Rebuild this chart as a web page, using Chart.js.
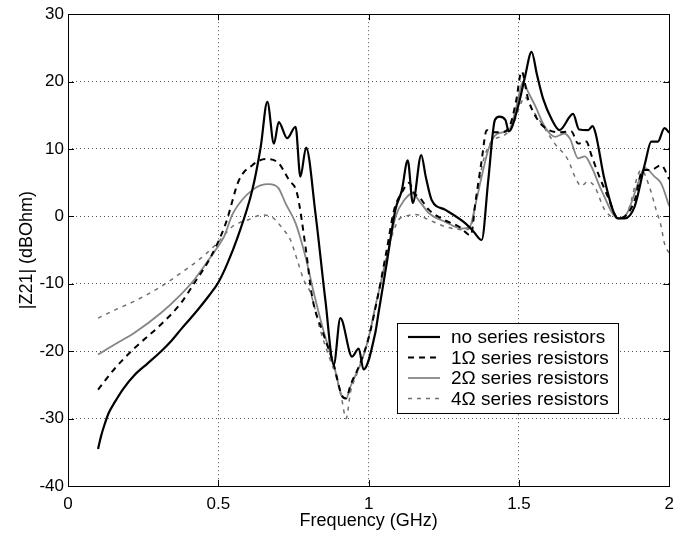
<!DOCTYPE html>
<html>
<head>
<meta charset="utf-8">
<script src="https://cdn.jsdelivr.net/npm/chart.js@4.4.1/dist/chart.umd.min.js"></script>
<style>
  html, body { margin: 0; padding: 0; background: #fff; }
  #wrap { width: 682px; height: 536px; }
</style>
</head>
<body>
<div id="wrap"><canvas id="chart" width="682" height="536"></canvas></div>
<script>
// ===== Data =====
const seriesLabels = ['no series resistors', '1Ω series resistors', '2Ω series resistors', '4Ω series resistors'];
const xTicks = [0, 0.5, 1, 1.5, 2];
const yTicks = [-40, -30, -20, -10, 0, 10, 20, 30];

const freqNone = [0.1, 0.11, 0.12, 0.135, 0.155, 0.185, 0.22, 0.265, 0.31, 0.345, 0.375, 0.41, 0.44, 0.47, 0.5, 0.53, 0.565, 0.613, 0.641, 0.663, 0.685, 0.701, 0.729, 0.757, 0.773, 0.792, 0.823, 0.856, 0.884, 0.906, 0.945, 0.967, 0.983, 1.022, 1.033, 1.06, 1.089, 1.11, 1.13, 1.147, 1.175, 1.19, 1.21, 1.254, 1.321, 1.348, 1.376, 1.398, 1.42, 1.435, 1.455, 1.466, 1.497, 1.52, 1.542, 1.56, 1.58, 1.61, 1.635, 1.68, 1.70, 1.73, 1.745, 1.755, 1.785, 1.83, 1.851, 1.885, 1.92, 1.94, 1.962, 1.984, 2.0];
const zNone    = [-34.5, -32.6, -31.1, -29.2, -27.6, -25.5, -23.6, -21.8, -20.0, -18.4, -16.8, -15.0, -13.4, -11.7, -9.8, -7.0, -3.0, 3.9, 10.3, 17.0, 10.8, 14.0, 11.6, 13.3, 5.9, 10.2, 0.5, -12.4, -22.0, -15.1, -20.8, -19.6, -22.7, -17.3, -14.3, -7.0, 1.0, 3.8, 8.3, 2.0, 9.1, 5.9, 2.4, 1.0, -1.0, -2.2, -3.5, 5.4, 14.3, 14.8, 14.3, 12.6, 16.3, 20.7, 24.4, 21.0, 17.5, 14.3, 12.8, 15.2, 12.9, 12.8, 13.4, 12.3, 5.4, -0.3, -0.3, 1.5, 8.0, 11.1, 11.1, 13.1, 12.4];

const freq1 = [0.1, 0.155, 0.22, 0.31, 0.375, 0.42, 0.475, 0.525, 0.569, 0.613, 0.657, 0.696, 0.735, 0.762, 0.79, 0.812, 0.85, 0.884, 0.91, 0.925, 0.94, 0.97, 1.0, 1.03, 1.06, 1.085, 1.11, 1.135, 1.15, 1.17, 1.2, 1.25, 1.3, 1.34, 1.355, 1.375, 1.393, 1.41, 1.44, 1.47, 1.49, 1.509, 1.53, 1.56, 1.6, 1.64, 1.674, 1.697, 1.724, 1.741, 1.763, 1.796, 1.83, 1.86, 1.885, 1.912, 1.94, 1.973, 2.0];
const z1    = [-25.7, -22.6, -19.6, -16.0, -12.9, -9.9, -6.0, -1.0, 5.4, 7.6, 8.5, 8.1, 5.4, 3.4, -4.5, -11.9, -17.5, -22.0, -26.5, -27.0, -25.0, -22.0, -18.0, -12.0, -5.0, 1.0, 3.5, 5.0, 3.5, 2.8, 1.0, -0.5, -1.5, -2.8, 2.0, 8.0, 12.8, 12.5, 12.5, 13.5, 17.0, 21.5, 17.5, 14.5, 12.8, 12.5, 12.6, 10.8, 11.1, 9.1, 6.4, 2.9, -0.3, 0.3, 2.4, 6.9, 6.9, 7.6, 5.5];

const freq2 = [0.1, 0.155, 0.22, 0.31, 0.375, 0.42, 0.475, 0.5, 0.519, 0.547, 0.58, 0.613, 0.64, 0.668, 0.70, 0.724, 0.757, 0.79, 0.818, 0.85, 0.884, 0.91, 0.925, 0.94, 0.978, 1.0, 1.022, 1.061, 1.09, 1.12, 1.145, 1.17, 1.2, 1.254, 1.31, 1.337, 1.354, 1.376, 1.398, 1.42, 1.45, 1.47, 1.49, 1.514, 1.53, 1.553, 1.586, 1.62, 1.65, 1.67, 1.697, 1.719, 1.741, 1.774, 1.83, 1.86, 1.896, 1.918, 1.951, 1.973, 2.0];
const z2    = [-20.5, -19.0, -17.3, -14.3, -11.6, -9.4, -6.0, -4.4, -3.0, 0.3, 2.5, 3.9, 4.6, 4.8, 4.2, 1.9, -1.0, -6.0, -11.4, -17.0, -22.0, -26.5, -27.0, -25.2, -21.3, -18.0, -13.4, -6.0, 0.0, 2.5, 3.4, 2.2, 0.5, -0.8, -1.8, -1.5, 1.5, 5.9, 9.9, 12.0, 12.5, 13.0, 16.0, 20.0, 18.5, 16.5, 13.3, 11.8, 12.3, 11.5, 8.6, 8.9, 7.4, 3.9, -0.3, 0.5, 4.9, 7.2, 5.9, 4.9, 1.5];

const freq4 = [0.1, 0.155, 0.22, 0.31, 0.375, 0.442, 0.5, 0.547, 0.6, 0.646, 0.679, 0.712, 0.74, 0.762, 0.784, 0.807, 0.84, 0.87, 0.89, 0.91, 0.925, 0.94, 0.96, 0.98, 1.0, 1.037, 1.07, 1.1, 1.122, 1.155, 1.2, 1.254, 1.32, 1.34, 1.36, 1.38, 1.40, 1.42, 1.45, 1.48, 1.50, 1.52, 1.542, 1.575, 1.619, 1.663, 1.686, 1.707, 1.73, 1.752, 1.785, 1.83, 1.86, 1.907, 1.934, 1.956, 1.973, 1.984, 2.0];
const z4    = [-15.1, -13.9, -12.6, -10.4, -8.4, -6.2, -3.8, -1.5, -0.5, 0.2, -0.1, -1.7, -3.5, -6.4, -9.4, -11.4, -17.0, -21.0, -23.5, -27.0, -30.0, -26.0, -23.5, -21.0, -18.0, -10.5, -4.0, -0.5, 0.0, 0.3, -0.5, -1.5, -2.0, -1.5, 3.0, 8.0, 10.5, 11.5, 12.0, 13.5, 16.0, 17.7, 16.0, 13.8, 10.8, 8.4, 5.9, 4.5, 5.2, 4.4, 1.0, -0.3, 0.5, 6.9, 4.4, 1.0, -1.5, -4.0, -5.5];

const toPoints = (xs, ys) => xs.map((x, i) => ({ x: x, y: ys[i] }));

// ===== Fonts =====
const fontFamily = "'Liberation Sans', Arial, Helvetica, sans-serif";
Chart.defaults.font.family = fontFamily;
Chart.defaults.color = '#000';

// ===== Frame, inward ticks and legend box =====
const matlabFrame = {
  id: 'matlabFrame',
  afterDraw(chart) {
    const ctx = chart.ctx;
    const a = chart.chartArea;
    const sx = chart.scales.x, sy = chart.scales.y;
    const tl = 6;
    ctx.save();
    ctx.strokeStyle = '#000';
    ctx.lineWidth = 1;
    ctx.beginPath();
    xTicks.forEach(v => {
      const px = Math.round(sx.getPixelForValue(v)) + 0.5;
      ctx.moveTo(px, a.bottom); ctx.lineTo(px, a.bottom - tl);
      ctx.moveTo(px, a.top); ctx.lineTo(px, a.top + tl);
    });
    yTicks.forEach(v => {
      const py = Math.round(sy.getPixelForValue(v)) + 0.5;
      ctx.moveTo(a.left, py); ctx.lineTo(a.left + tl, py);
      ctx.moveTo(a.right, py); ctx.lineTo(a.right - tl, py);
    });
    ctx.stroke();
    ctx.strokeRect(Math.round(a.left) + 0.5, Math.round(a.top) + 0.5,
                   Math.round(a.right - a.left), Math.round(a.bottom - a.top));

    // legend
    const bx = 397.5, by = 323.5, bw = 221, bh = 90;
    ctx.fillStyle = '#fff';
    ctx.fillRect(bx, by, bw, bh);
    ctx.strokeRect(bx, by, bw, bh);
    ctx.font = '19px ' + fontFamily;
    ctx.textBaseline = 'middle';
    chart.data.datasets.forEach((ds, i) => {
      const ry = 337 + i * 20.5;
      ctx.strokeStyle = ds.borderColor;
      ctx.lineWidth = ds.borderWidth;
      ctx.setLineDash(ds.borderDash || []);
      ctx.beginPath();
      ctx.moveTo(408, ry); ctx.lineTo(440, ry);
      ctx.stroke();
      ctx.setLineDash([]);
      ctx.fillStyle = '#000';
      ctx.fillText(ds.label, 451, ry + 1);
    });
    ctx.restore();
  }
};

// ===== Chart =====
const baseLine = { pointRadius: 0, fill: false, cubicInterpolationMode: 'monotone' };

new Chart(document.getElementById('chart').getContext('2d'), {
  type: 'line',
  data: {
    datasets: [
      Object.assign({ label: seriesLabels[0], data: toPoints(freqNone, zNone), borderColor: '#000', borderWidth: 2.2 }, baseLine),
      Object.assign({ label: seriesLabels[1], data: toPoints(freq1, z1), borderColor: '#000', borderWidth: 2, borderDash: [6, 5] }, baseLine),
      Object.assign({ label: seriesLabels[2], data: toPoints(freq2, z2), borderColor: '#858585', borderWidth: 1.8 }, baseLine),
      Object.assign({ label: seriesLabels[3], data: toPoints(freq4, z4), borderColor: '#707070', borderWidth: 1.5, borderDash: [4, 5] }, baseLine),
    ],
  },
  options: {
    responsive: false,
    animation: false,
    layout: { padding: { top: 14, right: 10, left: 12, bottom: 0 } },
    plugins: { legend: { display: false }, tooltip: { enabled: false } },
    scales: {
      x: {
        type: 'linear',
        min: 0, max: 2,
        afterBuildTicks: s => { s.ticks = xTicks.map(v => ({ value: v })); },
        afterFit: s => { s.height = 50; },
        grid: { color: '#555', drawTicks: false, lineWidth: 1 },
        border: { display: false, dash: [1, 3] },
        ticks: { padding: 8, font: { size: 17 }, color: '#000', callback: v => String(v) },
        title: { display: true, text: 'Frequency (GHz)', font: { size: 18 }, color: '#000' },
      },
      y: {
        type: 'linear',
        min: -40, max: 30,
        afterBuildTicks: s => { s.ticks = yTicks.map(v => ({ value: v })); },
        afterFit: s => { s.width = 56; },
        grid: { color: '#555', drawTicks: false, lineWidth: 1 },
        border: { display: false, dash: [1, 3] },
        ticks: { padding: 4, font: { size: 17 }, color: '#000', callback: v => String(v) },
        title: { display: true, text: '|Z21| (dBOhm)', font: { size: 18 }, color: '#000' },
      },
    },
  },
  plugins: [matlabFrame],
});
</script>
</body>
</html>
